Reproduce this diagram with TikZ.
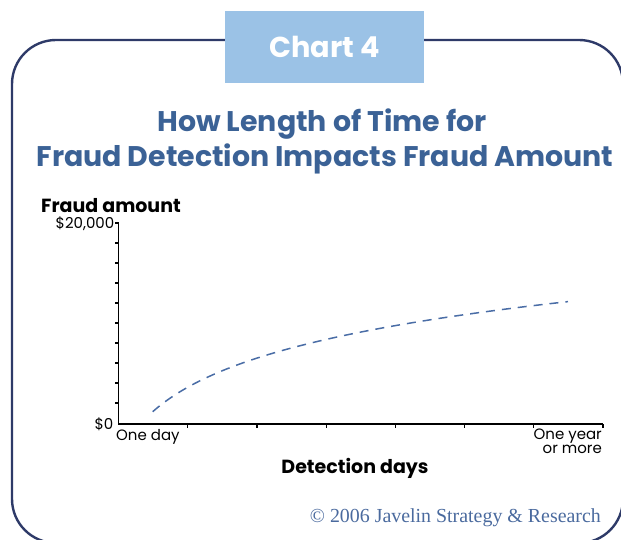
\documentclass[tikz,border=0pt]{standalone}
\usepackage{fontspec}
\setmainfont{Poppins}
\newfontfamily\serifcopy{Liberation Serif}
\definecolor{framecol}{HTML}{2E3A68}
\definecolor{boxcol}{HTML}{9BC2E6}
\definecolor{titlecol}{HTML}{3B6296}
\definecolor{curvecol}{HTML}{4A6DA6}
\definecolor{copycol}{HTML}{4A6A9E}
\tikzset{
  ticklab/.style={font=\fontsize{15}{15}\selectfont, inner sep=0pt},
  axlab/.style={font=\fontsize{19}{20}\selectfont\bfseries, inner sep=0pt},
  titlelab/.style={font=\fontsize{28.4}{30}\selectfont\bfseries, text=titlecol, inner sep=0pt},
  axisline/.style={line width=1.6pt, black},
}
\begin{document}
\begin{tikzpicture}[x=1pt,y=-1pt]
\useasboundingbox (0,0) rectangle (621,540);
% frame
\draw[framecol, line width=2.4pt, rounded corners=44pt] (12,40) rectangle (623,543);
% chart label box
\node[fill=boxcol, minimum width=199pt, minimum height=72pt, inner sep=0pt, anchor=north west,
      text=white, font=\fontsize{28.8}{30}\selectfont\bfseries] (chart) at (225,11) {Chart 4};
% titles
\node[titlelab] (t1) at (322,124) {How Length of Time for};
\node[titlelab] (t2) at (325,159) {Fraud Detection Impacts Fraud Amount};
% axes
\coordinate (o) at (118.5,424);
\coordinate (ytop) at (118.5,223);
\coordinate (xend) at (603,424);
\draw[axisline] (ytop) -- (o) -- (xend);
\foreach \i in {0,...,9} {
  \draw[axisline, line width=1.2pt] (118.5,223+20*\i) -- ++(-4,0);
}
\foreach \i in {1,...,7} {
  \draw[axisline, line width=1.2pt] (118.5+69.2*\i,424) -- ++(0,4);
}
% labels
\node[axlab, anchor=base west] (fa) at (41,212) {Fraud amount};
\node[ticklab, anchor=east] (y20) at (114.5,224) {\$20,000};
\node[ticklab, anchor=east] (y0) at (113.5,424) {\$0};
\node[ticklab, anchor=west] (xd) at (116,437) {One day};
\node[ticklab, anchor=north east, align=right] (xy) at (602,429) {One year\\[-1.5pt]or more};
\node[axlab] (dd) at (355,468) {Detection days};
% curve
\draw[curvecol, line width=1.5pt, dash pattern=on 9pt off 7pt]
  plot[domain=152.7:568, samples=80, smooth] (\x, {411.7 - 53.2*ln(1+(\x-152.7)/60)});
% copyright
\node[anchor=base east, inner sep=0pt, text=copycol, font=\serifcopy\fontsize{19.9}{21}\selectfont] (cp) at (601,522) {© 2006 Javelin Strategy \& Research};
\end{tikzpicture}
\end{document}
